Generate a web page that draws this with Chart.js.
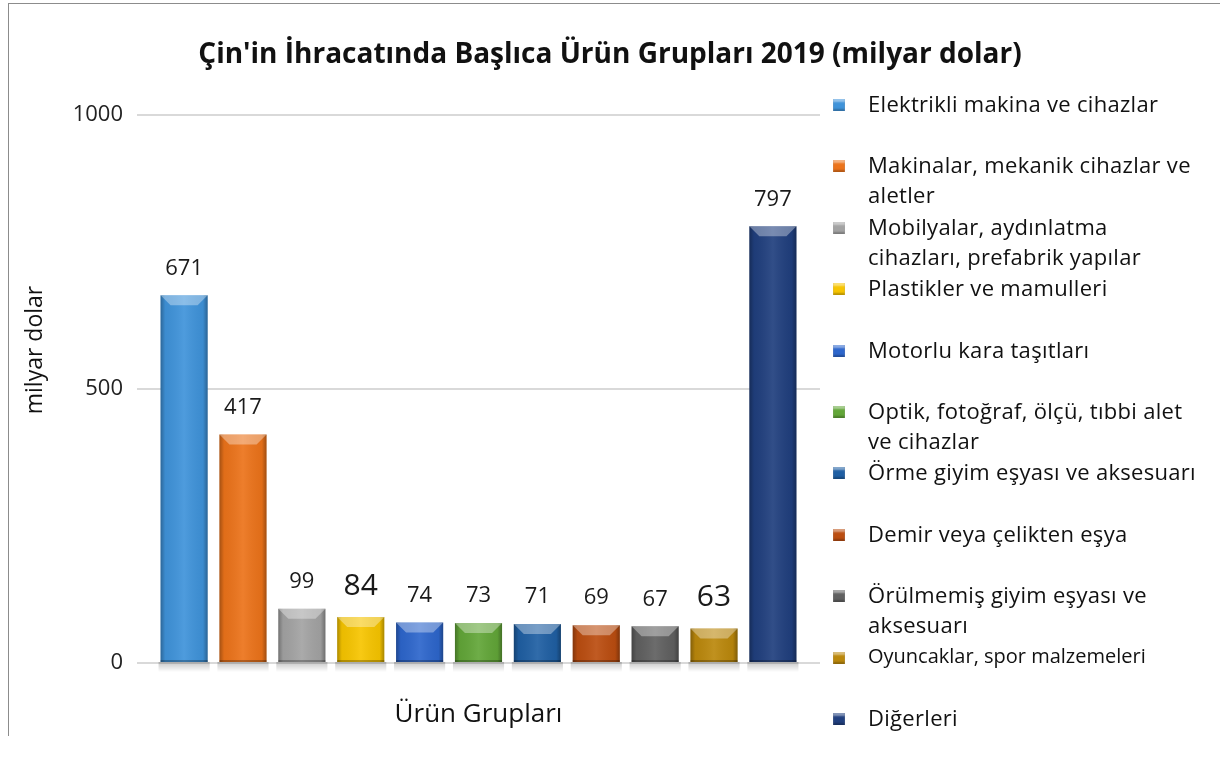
<!DOCTYPE html>
<html>
<head>
<meta charset="utf-8">
<script src="https://cdn.jsdelivr.net/npm/chart.js@4.4.0/dist/chart.umd.min.js"></script>
<style>
  html, body { margin: 0; padding: 0; background: #fff; }
  #wrap { position: relative; width: 1220px; height: 763px; overflow: hidden; }
  #frame { position: absolute; left: 8px; top: 3px; width: 1300px; height: 732px;
           border-left: 1px solid #8c8c8c; border-top: 1px solid #8c8c8c; }
  #chart { position: absolute; left: 0; top: 0; }
  #legend { position: absolute; left: 833px; top: 88px; width: 367px;
            font-family: "Open Sans", sans-serif; font-size: 22px; color: #111; }
  .item { position: relative; height: 61.4px; }
  .box { position: absolute; left: 0; top: 11px; width: 12px; height: 12px;
         box-shadow: inset 0 3px 2px rgba(255,255,255,0.45), inset 0 -2px 2px rgba(0,0,0,0.25); }
  .txt { display: block; margin-left: 35px; line-height: 30px; letter-spacing: 0.3px; }
</style>
</head>
<body>
<div id="wrap">
  <div id="frame"></div>
  <canvas id="chart" width="1220" height="763"></canvas>
  <div id="legend"></div>
</div>
<script>
const categories = [
  'Elektrikli makina ve cihazlar',
  'Makinalar, mekanik cihazlar ve aletler',
  'Mobilyalar, aydınlatma cihazları, prefabrik yapılar',
  'Plastikler ve mamulleri',
  'Motorlu kara taşıtları',
  'Optik, fotoğraf, ölçü, tıbbi alet ve cihazlar',
  'Örme giyim eşyası ve aksesuarı',
  'Demir veya çelikten eşya',
  'Örülmemiş giyim eşyası ve aksesuarı',
  'Oyuncaklar, spor malzemeleri',
  'Diğerleri'
];
const values = [671, 417, 99, 84, 74, 73, 71, 69, 67, 63, 797];
const yTicks = [0, 500, 1000];
const yTitle = 'milyar dolar';

const colors = ['#3f93da', '#ec731a', '#a3a3a3', '#f7c500', '#2d66cc', '#62a638',
                '#1f5fa3', '#bb4d10', '#606060', '#bb880c', '#203f7e'];
const fontFamily = '"Open Sans", sans-serif';
const bigLabels = new Set([3, 9]);

// legend on the right, built from the categories
const legend = document.getElementById('legend');
categories.forEach((name, i) => {
  const item = document.createElement('div');
  item.className = 'item';
  const box = document.createElement('span');
  box.className = 'box';
  box.style.background = colors[i];
  const txt = document.createElement('span');
  txt.className = 'txt';
  txt.textContent = name;
  if (i === 9) { txt.style.fontSize = '20px'; txt.style.letterSpacing = '0'; }
  item.appendChild(box);
  item.appendChild(txt);
  legend.appendChild(item);
});

// soft shadow under each bar
const barShadow = {
  id: 'barShadow',
  beforeDatasetsDraw(chart) {
    const ctx = chart.ctx;
    chart.getDatasetMeta(0).data.forEach(bar => {
      const { x, base, width } = bar.getProps(['x', 'base', 'width'], true);
      const g = ctx.createLinearGradient(0, base, 0, base + 10);
      g.addColorStop(0, 'rgba(0,0,0,0.22)');
      g.addColorStop(1, 'rgba(0,0,0,0)');
      ctx.save();
      ctx.fillStyle = g;
      ctx.fillRect(x - width / 2 - 2, base, width + 4, 10);
      ctx.restore();
    });
  }
};

// bevel look on the bars
const barBevel = {
  id: 'barBevel',
  afterDatasetsDraw(chart) {
    const ctx = chart.ctx;
    chart.getDatasetMeta(0).data.forEach(bar => {
      const { x, y, base, width } = bar.getProps(['x', 'y', 'base', 'width'], true);
      const l = x - width / 2, r = x + width / 2, h = base - y;
      ctx.save();
      const g = ctx.createLinearGradient(l, 0, r, 0);
      g.addColorStop(0, 'rgba(0,0,0,0.3)');
      g.addColorStop(0.1, 'rgba(0,0,0,0.05)');
      g.addColorStop(0.5, 'rgba(255,255,255,0.08)');
      g.addColorStop(0.9, 'rgba(0,0,0,0.05)');
      g.addColorStop(1, 'rgba(0,0,0,0.32)');
      ctx.fillStyle = g;
      ctx.fillRect(l, y, width, h);
      const b = Math.min(10, h / 2);
      ctx.beginPath();
      ctx.moveTo(l, y);
      ctx.lineTo(r, y);
      ctx.lineTo(r - b, y + b);
      ctx.lineTo(l + b, y + b);
      ctx.closePath();
      ctx.fillStyle = 'rgba(255,255,255,0.35)';
      ctx.fill();
      ctx.fillStyle = 'rgba(0,0,0,0.25)';
      ctx.fillRect(l, base - 2, width, 2);
      ctx.restore();
    });
  }
};

// value labels above bars and the vertical axis title
const valueLabels = {
  id: 'valueLabels',
  afterDatasetsDraw(chart) {
    const ctx = chart.ctx;
    ctx.save();
    ctx.fillStyle = '#1a1a1a';
    ctx.textAlign = 'center';
    ctx.textBaseline = 'middle';
    chart.getDatasetMeta(0).data.forEach((bar, i) => {
      const big = bigLabels.has(i);
      ctx.font = (big ? 30 : 22) + 'px ' + fontFamily;
      ctx.fillText(String(values[i]), bar.x, bar.y - (big ? 31 : 27));
    });
    const area = chart.chartArea;
    ctx.translate(35, (area.top + area.bottom) / 2 - 39);
    ctx.rotate(-Math.PI / 2);
    ctx.font = '23px ' + fontFamily;
    ctx.fillStyle = '#111';
    ctx.fillText(yTitle, 0, 0);
    ctx.restore();
  }
};

new Chart(document.getElementById('chart'), {
  type: 'bar',
  data: {
    datasets: [{
      label: yTitle,
      data: values.map((v, i) => ({ x: i, y: v })),
      backgroundColor: colors,
      borderWidth: 0,
      categoryPercentage: 0.8,
      barPercentage: 1.0
    }]
  },
  options: {
    responsive: false,
    animation: false,
    layout: { padding: 0 },
    plugins: {
      legend: { display: false },
      tooltip: { enabled: false },
      title: {
        display: true,
        text: "Çin'in İhracatında Başlıca Ürün Grupları 2019 (milyar dolar)",
        color: '#111',
        font: { family: fontFamily, size: 28, weight: 'bold', lineHeight: 1.2 },
        padding: { top: 38, bottom: 43.4 }
      }
    },
    scales: {
      x: {
        type: 'linear',
        offset: false,
        min: -0.8,
        max: 10.8,
        afterBuildTicks(scale) { scale.ticks = categories.map((c, i) => ({ value: i })); },
        ticks: { display: false },
        grid: { display: false },
        border: { display: false },
        title: {
          display: true,
          text: 'Ürün Grupları',
          color: '#111',
          font: { family: fontFamily, size: 26, lineHeight: 1.2 },
          padding: { top: 0, bottom: 33 }
        },
        afterFit(scale) { scale.height = 100; }
      },
      y: {
        min: 0,
        max: 1000,
        afterBuildTicks(scale) { scale.ticks = yTicks.map(v => ({ value: v })); },
        ticks: {
          color: '#222',
          padding: 14,
          font: { family: fontFamily, size: 22 },
          callback: v => String(v)
        },
        grid: { color: '#d9d9d9', lineWidth: 2, drawTicks: false },
        border: { display: false },
        afterFit(scale) { scale.width = 137; }
      },
      // empty right-hand box that reserves room for the html legend
      legendSpace: {
        type: 'linear',
        position: 'right',
        display: true,
        ticks: { display: false },
        grid: { display: false },
        border: { display: false },
        afterFit(scale) { scale.width = 400; }
      }
    }
  },
  plugins: [barShadow, barBevel, valueLabels]
});
</script>
</body>
</html>
